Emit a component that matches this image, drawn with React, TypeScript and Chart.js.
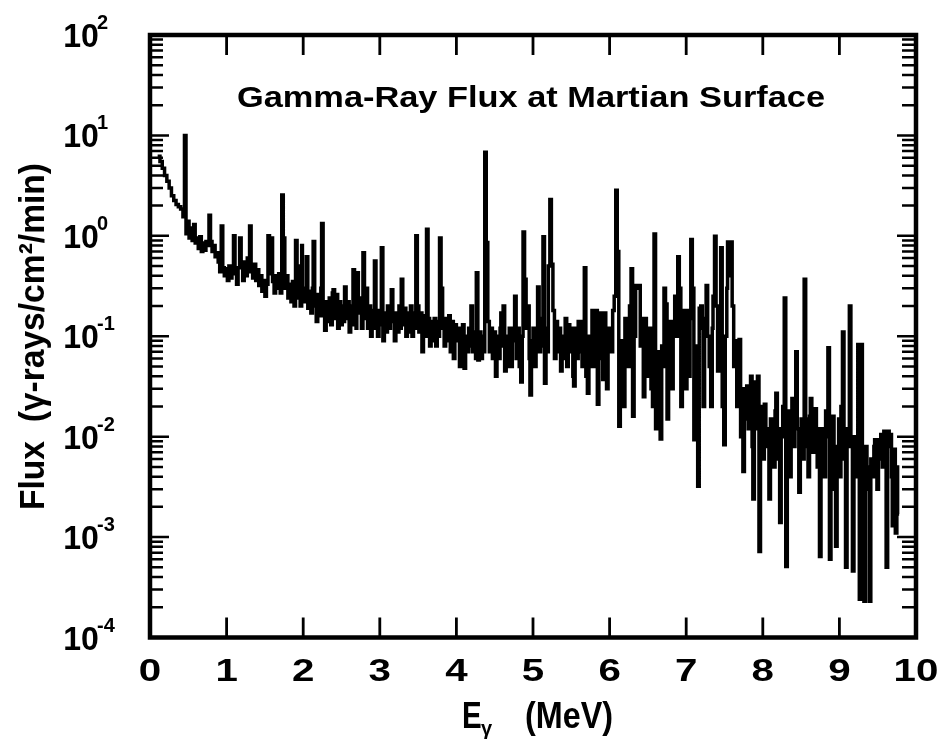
import React, { useEffect, useRef } from "react";
import { Chart, registerables } from "chart.js";

Chart.register(...registerables);

// Spectrum: [energy (MeV), flux (γ-rays/cm²/min)]
const spectrum0to1: [number, number][] = [
  [0.10, 6.2], [0.13, 5.5], [0.16, 4.7], [0.19, 4.0], [0.22, 3.5], [0.25, 3.0], [0.28, 2.5], [0.31, 2.25],
  [0.34, 2.05], [0.37, 1.95], [0.40, 1.85], [0.43, 1.55], [0.45, 10.0], [0.47, 1.05], [0.49, 1.4], [0.51, 0.95],
  [0.53, 1.2], [0.55, 0.9], [0.57, 1.3], [0.59, 0.85], [0.61, 0.95], [0.63, 0.75], [0.65, 0.98], [0.67, 0.7],
  [0.69, 0.85], [0.71, 0.72], [0.73, 0.88], [0.75, 0.8], [0.77, 1.6], [0.79, 0.88], [0.81, 0.7], [0.83, 0.8],
  [0.85, 0.62], [0.87, 0.68], [0.89, 0.55], [0.91, 0.44], [0.93, 1.25], [0.95, 0.48], [0.97, 0.4], [0.99, 0.47],
];

const spectrum1to2: [number, number][] = [
  [1.01, 0.36], [1.03, 0.5], [1.05, 0.38], [1.07, 0.47], [1.09, 1.0], [1.11, 0.42], [1.13, 0.33], [1.15, 0.48],
  [1.17, 0.95], [1.19, 0.5], [1.21, 0.36], [1.23, 0.55], [1.25, 0.4], [1.27, 0.6], [1.29, 0.44], [1.30, 1.25],
  [1.32, 0.5], [1.34, 0.38], [1.36, 0.52], [1.38, 0.36], [1.40, 0.46], [1.42, 0.32], [1.44, 0.4], [1.46, 0.28],
  [1.48, 0.36], [1.50, 0.25], [1.52, 0.33], [1.54, 1.0], [1.56, 0.42], [1.58, 0.95], [1.60, 0.35], [1.62, 0.27],
  [1.64, 0.4], [1.66, 0.3], [1.68, 0.42], [1.70, 0.27], [1.72, 2.55], [1.74, 0.95], [1.76, 0.3], [1.78, 0.4],
  [1.80, 0.24], [1.82, 0.33], [1.84, 0.22], [1.86, 0.35], [1.88, 0.2], [1.90, 0.9], [1.92, 0.24], [1.94, 0.5],
  [1.96, 0.2], [1.98, 0.8], [1.99, 0.3],
];

const spectrum2to3: [number, number][] = [
  [2.01, 0.22], [2.03, 0.3], [2.04, 0.62], [2.06, 0.19], [2.08, 0.28], [2.10, 0.17], [2.12, 0.3], [2.13, 0.88],
  [2.15, 0.2], [2.17, 0.14], [2.19, 0.26], [2.21, 0.16], [2.23, 0.3], [2.24, 1.33], [2.26, 0.16], [2.28, 0.115],
  [2.30, 0.22], [2.32, 0.14], [2.34, 0.24], [2.36, 0.13], [2.38, 0.27], [2.39, 0.29], [2.41, 0.15], [2.43, 0.26],
  [2.45, 0.12], [2.47, 0.22], [2.49, 0.13], [2.51, 0.2], [2.53, 0.14], [2.54, 0.31], [2.56, 0.15], [2.58, 0.22],
  [2.60, 0.11], [2.62, 0.2], [2.64, 0.13], [2.65, 0.46], [2.67, 0.2], [2.69, 0.12], [2.70, 0.43], [2.72, 0.17],
  [2.74, 0.24], [2.76, 0.12], [2.78, 0.68], [2.80, 0.15], [2.82, 0.3], [2.84, 0.12], [2.86, 0.2], [2.88, 0.1],
  [2.90, 0.18], [2.92, 0.12], [2.93, 0.56], [2.95, 0.16], [2.97, 0.1], [2.99, 0.18],
];

const spectrum3to4: [number, number][] = [
  [3.00, 0.13], [3.02, 0.76], [3.04, 0.09], [3.06, 0.17], [3.08, 0.11], [3.10, 0.2], [3.12, 0.12], [3.14, 0.18],
  [3.15, 0.29], [3.17, 0.14], [3.19, 0.09], [3.21, 0.17], [3.23, 0.11], [3.25, 0.2], [3.27, 0.12], [3.28, 0.37],
  [3.30, 0.13], [3.32, 0.19], [3.34, 0.1], [3.36, 0.17], [3.38, 0.11], [3.40, 0.2], [3.42, 0.1], [3.44, 0.17],
  [3.46, 0.12], [3.47, 1.0], [3.49, 0.2], [3.51, 0.11], [3.53, 0.17], [3.55, 0.07], [3.57, 0.16], [3.59, 0.1],
  [3.61, 1.16], [3.63, 0.15], [3.65, 0.08], [3.67, 0.14], [3.69, 0.09], [3.71, 0.15], [3.73, 0.08], [3.75, 0.14],
  [3.77, 0.1], [3.78, 0.95], [3.80, 0.3], [3.82, 0.12], [3.84, 0.08], [3.86, 0.15], [3.88, 0.09], [3.90, 0.16],
  [3.92, 0.07], [3.94, 0.14], [3.96, 0.06], [3.98, 0.13],
];

const spectrum4to5: [number, number][] = [
  [4.00, 0.09], [4.02, 0.12], [4.04, 0.05], [4.06, 0.11], [4.08, 0.13], [4.10, 0.048], [4.12, 0.1], [4.14, 0.07],
  [4.16, 0.12], [4.18, 0.08], [4.19, 0.2], [4.21, 0.07], [4.23, 0.11], [4.25, 0.06], [4.26, 0.43], [4.28, 0.058],
  [4.30, 0.11], [4.32, 0.06], [4.34, 0.1], [4.36, 0.07], [4.37, 6.8], [4.39, 0.86], [4.41, 0.14], [4.43, 0.07],
  [4.45, 0.12], [4.47, 0.06], [4.49, 0.11], [4.51, 0.04], [4.53, 0.1], [4.55, 0.06], [4.57, 0.12], [4.58, 0.17],
  [4.60, 0.08], [4.61, 0.2], [4.63, 0.045], [4.65, 0.1], [4.67, 0.05], [4.69, 0.12], [4.71, 0.05], [4.73, 0.12],
  [4.75, 0.09], [4.76, 0.25], [4.78, 0.06], [4.80, 0.12], [4.82, 0.05], [4.84, 0.035], [4.86, 0.1], [4.87, 1.09],
  [4.89, 0.37], [4.91, 0.12], [4.93, 0.2], [4.95, 0.06], [4.96, 0.026], [4.98, 0.09],
];

const spectrum5to6: [number, number][] = [
  [5.00, 0.12], [5.02, 0.05], [5.04, 0.11], [5.06, 0.31], [5.08, 0.07], [5.10, 0.15], [5.12, 0.08], [5.13, 0.98],
  [5.15, 0.034], [5.17, 0.12], [5.19, 0.07], [5.20, 0.5], [5.22, 2.3], [5.24, 0.52], [5.26, 0.18], [5.28, 0.06],
  [5.30, 0.14], [5.32, 0.07], [5.34, 0.12], [5.36, 0.045], [5.38, 0.1], [5.40, 0.06], [5.42, 0.15], [5.44, 0.05],
  [5.46, 0.13], [5.48, 0.07], [5.50, 0.12], [5.52, 0.04], [5.53, 0.032], [5.55, 0.12], [5.57, 0.06], [5.59, 0.14],
  [5.61, 0.07], [5.62, 0.14], [5.64, 0.05], [5.66, 0.1], [5.67, 0.48], [5.69, 0.04], [5.71, 0.027], [5.73, 0.1],
  [5.75, 0.05], [5.77, 0.18], [5.79, 0.08], [5.80, 0.05], [5.82, 0.18], [5.84, 0.021], [5.86, 0.12], [5.87, 0.17],
  [5.89, 0.06], [5.91, 0.037], [5.93, 0.17], [5.95, 0.08], [5.96, 0.03], [5.98, 0.12],
];

const spectrum6to7: [number, number][] = [
  [6.00, 0.12], [6.02, 0.07], [6.04, 0.18], [6.06, 0.25], [6.08, 2.85], [6.10, 0.7], [6.12, 0.0127], [6.14, 0.05],
  [6.16, 0.09], [6.18, 0.02], [6.20, 0.15], [6.22, 0.08], [6.24, 0.05], [6.26, 0.2], [6.28, 0.47], [6.30, 0.016],
  [6.32, 0.1], [6.34, 0.32], [6.36, 0.3], [6.38, 0.32], [6.40, 0.08], [6.42, 0.15], [6.44, 0.025], [6.46, 0.15],
  [6.48, 0.06], [6.50, 0.04], [6.52, 0.12], [6.54, 0.03], [6.56, 0.02], [6.58, 1.04], [6.60, 0.012], [6.62, 0.07],
  [6.64, 0.03], [6.66, 0.0095], [6.68, 0.08], [6.70, 0.05], [6.71, 0.3], [6.73, 0.21], [6.75, 0.015], [6.77, 0.09],
  [6.79, 0.14], [6.81, 0.03], [6.83, 0.1], [6.85, 0.25], [6.87, 0.1], [6.89, 0.62], [6.91, 0.3], [6.93, 0.02],
  [6.95, 0.12], [6.97, 0.18], [6.99, 0.03],
];

const spectrum7to8: [number, number][] = [
  [7.01, 0.18], [7.03, 0.04], [7.05, 0.15], [7.06, 0.92], [7.08, 0.3], [7.10, 0.0093], [7.12, 0.08], [7.14, 0.03],
  [7.15, 0.0032], [7.17, 0.19], [7.19, 0.2], [7.21, 0.12], [7.22, 0.02], [7.24, 0.15], [7.26, 0.32], [7.28, 0.1],
  [7.30, 0.05], [7.32, 0.02], [7.34, 0.12], [7.35, 0.25], [7.37, 0.99], [7.39, 0.2], [7.41, 0.045], [7.43, 0.15],
  [7.45, 0.76], [7.47, 0.02], [7.49, 0.0083], [7.51, 0.1], [7.53, 0.3], [7.54, 0.87], [7.56, 0.4], [7.58, 0.87],
  [7.60, 0.2], [7.62, 0.05], [7.64, 0.09], [7.66, 0.02], [7.68, 0.06], [7.69, 0.093], [7.71, 0.01], [7.73, 0.03],
  [7.74, 0.0045], [7.76, 0.03], [7.78, 0.015], [7.79, 0.032], [7.81, 0.012], [7.83, 0.025], [7.84, 0.04],
  [7.86, 0.008], [7.87, 0.0024], [7.89, 0.02], [7.90, 0.035], [7.92, 0.012], [7.93, 0.04], [7.95, 0.00072],
  [7.97, 0.01], [7.99, 0.02],
];

const spectrum8to9: [number, number][] = [
  [8.00, 0.006], [8.02, 0.021], [8.04, 0.012], [8.06, 0.008], [8.08, 0.0024], [8.10, 0.015], [8.12, 0.009],
  [8.14, 0.005], [8.16, 0.018], [8.17, 0.027], [8.19, 0.006], [8.21, 0.012], [8.22, 0.0014], [8.24, 0.01],
  [8.26, 0.02], [8.28, 0.24], [8.30, 0.00051], [8.32, 0.01], [8.34, 0.018], [8.35, 0.004], [8.37, 0.012],
  [8.38, 0.024], [8.40, 0.008], [8.42, 0.02], [8.43, 0.07], [8.45, 0.012], [8.47, 0.0028], [8.49, 0.01],
  [8.50, 0.015], [8.52, 0.006], [8.54, 0.37], [8.56, 0.015], [8.58, 0.008], [8.59, 0.004], [8.61, 0.016],
  [8.62, 0.024], [8.64, 0.01], [8.65, 0.007], [8.67, 0.015], [8.68, 0.019], [8.70, 0.008], [8.71, 0.005],
  [8.72, 0.012], [8.74, 0.00064], [8.76, 0.008], [8.77, 0.012], [8.79, 0.006], [8.80, 0.004], [8.82, 0.018],
  [8.84, 0.01], [8.85, 0.077], [8.87, 0.0006], [8.89, 0.01], [8.91, 0.016], [8.93, 0.003], [8.95, 0.00081],
  [8.97, 0.008], [8.99, 0.015],
];

const spectrum9to10: [number, number][] = [
  [9.00, 0.004], [9.02, 0.02], [9.04, 0.11], [9.06, 0.006], [9.08, 0.0005], [9.10, 0.012], [9.12, 0.008],
  [9.13, 0.2], [9.15, 0.008], [9.17, 0.00046], [9.19, 0.01], [9.21, 0.006], [9.22, 0.004], [9.24, 0.083],
  [9.26, 0.00024], [9.28, 0.083], [9.30, 0.006], [9.32, 0.00023], [9.34, 0.008], [9.36, 0.003], [9.37, 0.005],
  [9.39, 0.00023], [9.41, 0.006], [9.43, 0.004], [9.45, 0.008], [9.46, 0.0093], [9.48, 0.005], [9.49, 0.003],
  [9.51, 0.0093], [9.53, 0.006], [9.54, 0.0105], [9.56, 0.005], [9.58, 0.0113], [9.60, 0.006], [9.61, 0.0005],
  [9.63, 0.0113], [9.65, 0.008], [9.66, 0.0105], [9.68, 0.004], [9.69, 0.0013], [9.71, 0.0075], [9.73, 0.0011],
  [9.75, 0.005], [9.76, 0.0017], [9.78, 0.0017],
];

const xTickValues = [0, 1, 2, 3, 4, 5, 6, 7, 8, 9, 10];
const xTickLabels = ["0", "1", "2", "3", "4", "5", "6", "7", "8", "9", "10"];
const yDecadeExponents = [2, 1, 0, -1, -2, -3, -4];
const yExponentLabels = ["2", "1", "0", "-1", "-2", "-3", "-4"];

const chartTitle = "Gamma-Ray Flux at Martian Surface";
const yAxisTitle = "Flux  (\u03b3-rays/cm\u00b2/min)";
const xAxisTitleMain = "E";
const xAxisTitleSub = "\u03b3";
const xAxisTitleUnit = "(MeV)";

const FONT = "'Liberation Sans', Arial, Helvetica, sans-serif";

function drawText(
  ctx: CanvasRenderingContext2D,
  text: string,
  x: number,
  y: number,
  font: string,
  align: "left" | "center",
  sx: number
) {
  ctx.save();
  ctx.font = font;
  ctx.textAlign = "left";
  ctx.textBaseline = "alphabetic";
  const w = ctx.measureText(text).width * sx;
  const left = align === "center" ? x - w / 2 : x;
  ctx.translate(left, y);
  ctx.scale(sx, 1);
  ctx.fillText(text, 0, 0);
  ctx.restore();
}

function drawFit(ctx: CanvasRenderingContext2D, text: string, left: number, y: number, font: string, width: number) {
  ctx.save();
  ctx.font = font;
  const w = ctx.measureText(text).width;
  ctx.restore();
  drawText(ctx, text, left, y, font, "left", width / w);
}

const decorPlugin = {
  id: "decor",
  afterDraw(chart: any) {
    const { ctx, chartArea: a, scales } = chart;
    const xs = scales.x;
    const ys = scales.y;
    ctx.save();
    ctx.strokeStyle = "#000";
    ctx.fillStyle = "#000";
    ctx.lineCap = "butt";

    // y ticks (inside, left and right)
    ctx.lineWidth = 2.5;
    for (const e of yDecadeExponents) {
      for (let m = 1; m <= 9; m++) {
        const v = m * Math.pow(10, e);
        if (v > 100.0001) continue;
        const py = ys.getPixelForValue(v);
        const lenL = m === 1 ? 19 : 13;
        const lenR = m === 1 ? 19 : 14;
        ctx.beginPath();
        ctx.moveTo(a.left, py);
        ctx.lineTo(a.left + lenL, py);
        ctx.moveTo(a.right, py);
        ctx.lineTo(a.right - lenR, py);
        ctx.stroke();
      }
    }
    // x ticks (inside, top and bottom)
    ctx.lineWidth = 2.8;
    for (const v of xTickValues) {
      if (v === 0 || v === 10) continue;
      const px = xs.getPixelForValue(v);
      ctx.beginPath();
      ctx.moveTo(px, a.bottom);
      ctx.lineTo(px, a.bottom - 20);
      ctx.moveTo(px, a.top);
      ctx.lineTo(px, a.top + 20);
      ctx.stroke();
    }
    // frame
    ctx.lineWidth = 4.5;
    ctx.strokeRect(a.left, a.top, a.right - a.left, a.bottom - a.top);

    // x tick labels
    xTickValues.forEach((v, i) => {
      const px = xs.getPixelForValue(v);
      drawText(ctx, xTickLabels[i], px, 681, `bold 31px ${FONT}`, "center", 1.3);
    });

    // y tick labels: 10 with exponent
    yDecadeExponents.forEach((e, i) => {
      const py = ys.getPixelForValue(Math.pow(10, e));
      drawText(ctx, "10", 81, py + 12, `bold 33px ${FONT}`, "center", 0.97);
      drawText(ctx, yExponentLabels[i], 97, py - 6, `bold 20px ${FONT}`, "left", 1);
    });

    // title inside plot
    drawFit(ctx, chartTitle, 237, 107, `bold 30px ${FONT}`, 588);

    // x axis title
    drawText(ctx, xAxisTitleMain, 462, 728, `bold 36px ${FONT}`, "left", 0.82);
    drawText(ctx, xAxisTitleSub, 481, 735, `bold 20px ${FONT}`, "left", 1);
    drawFit(ctx, xAxisTitleUnit, 525, 728, `bold 36px ${FONT}`, 88);

    // y axis title (rotated)
    ctx.save();
    ctx.font = `bold 35px ${FONT}`;
    const tw = ctx.measureText(yAxisTitle).width;
    const sx = 347 / tw;
    ctx.translate(44, 336.5);
    ctx.rotate(-Math.PI / 2);
    ctx.scale(sx, 1);
    ctx.textAlign = "center";
    ctx.textBaseline = "alphabetic";
    ctx.fillText(yAxisTitle, 0, 0);
    ctx.restore();

    ctx.restore();
  },
};

export default function App() {
  const canvasRef = useRef<HTMLCanvasElement | null>(null);

  useEffect(() => {
    const canvas = canvasRef.current;
    if (!canvas) return;
    const points = [
      ...spectrum0to1,
      ...spectrum1to2,
      ...spectrum2to3,
      ...spectrum3to4,
      ...spectrum4to5,
      ...spectrum5to6,
      ...spectrum6to7,
      ...spectrum7to8,
      ...spectrum8to9,
      ...spectrum9to10,
    ].map(([x, y]) => ({ x, y }));

    const chart = new Chart(canvas, {
      type: "line",
      data: {
        datasets: [
          {
            data: points,
            stepped: true,
            borderColor: "#000",
            borderWidth: 3.5,
            pointRadius: 0,
            fill: false,
            borderJoinStyle: "miter",
          } as any,
        ],
      },
      options: {
        animation: false,
        responsive: false,
        devicePixelRatio: 1,
        layout: { padding: { left: 150, right: 22, top: 35, bottom: 104.5 } },
        plugins: { legend: { display: false }, tooltip: { enabled: false } },
        scales: {
          x: { type: "linear", min: 0, max: 10, display: false },
          y: { type: "logarithmic", min: 1e-4, max: 100, display: false },
        },
      },
      plugins: [decorPlugin],
    });
    return () => chart.destroy();
  }, []);

  return (
    <canvas
      ref={canvasRef}
      width={938}
      height={742}
      style={{ position: "absolute", left: 0, top: 0, width: 938, height: 742, background: "#fff" }}
    />
  );
}
